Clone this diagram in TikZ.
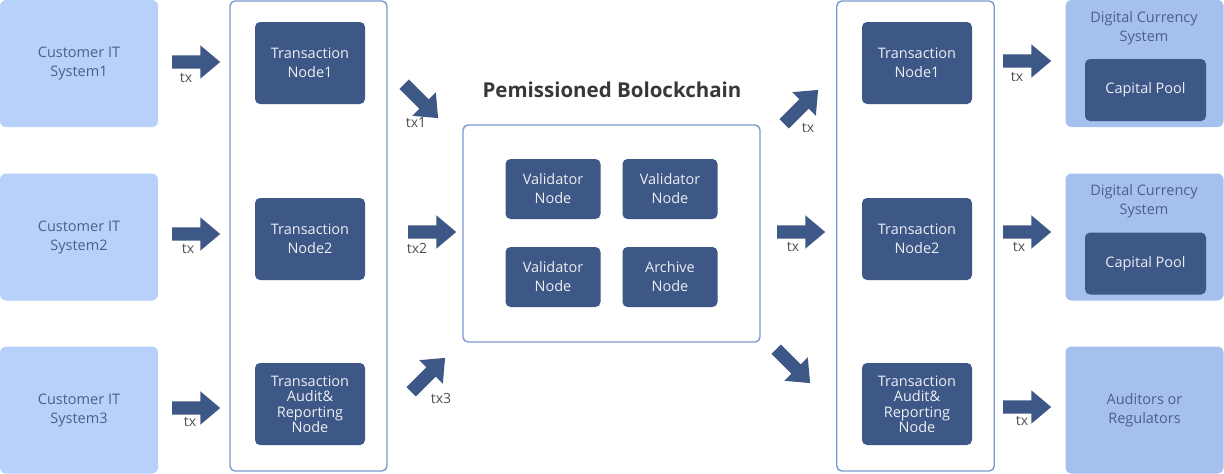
\documentclass[tikz,border=0pt]{standalone}
\usepackage{fontspec}
\setmainfont{Open Sans}
\usetikzlibrary{shapes.arrows}
\definecolor{custblue}{HTML}{B8D1FB}
\definecolor{dcsblue}{HTML}{A6C0EE}
\definecolor{nodeblue}{HTML}{3D5786}
\definecolor{frameblue}{HTML}{7B98CF}
\definecolor{softtext}{HTML}{4A5F8E}
\definecolor{labgray}{HTML}{4F4F4F}
\definecolor{titlegray}{HTML}{383838}

\begin{document}
\begin{tikzpicture}[x=1pt,y=-1pt,
    cust/.style={fill=custblue,rounded corners=6pt,minimum width=158pt,minimum height=127pt,text=softtext,align=center,font=\fontsize{14.5}{19}\selectfont},
    dcs/.style={cust,fill=dcsblue},
    frame/.style={draw=frameblue,line width=1.4pt,fill=white,rounded corners=5pt},
    txn/.style={fill=nodeblue,rounded corners=5pt,text=white!90!nodeblue,align=center,minimum width=110pt,minimum height=82pt,font=\fontsize{14.5}{19}\selectfont},
    audit/.style={txn,font=\fontsize{14.5}{15.5}\selectfont},
    valid/.style={txn,minimum width=95pt,minimum height=60pt},
    pool/.style={txn,minimum width=121pt,minimum height=62pt},
    fat/.style={single arrow,fill=nodeblue,inner xsep=0pt,inner ysep=6.5pt,minimum height=48pt,single arrow head extend=10pt,single arrow tip angle=80,anchor=tail},
    txlab/.style={text=labgray,font=\fontsize{14}{16}\selectfont,inner sep=0pt}]
 %   \useasboundingbox (0,0) rectangle (1224,474);
    \path[use as bounding box] (0,0) rectangle (1224,474);

    \node[cust] (cust1) at (79,63.5) {Customer IT\\System1};
    \node[cust] (cust2) at (79,237) {Customer IT\\System2};
    \node[cust] (cust3) at (79,410) {Customer IT\\System3};

    \node[frame,minimum width=157pt,minimum height=470pt] (lframe) at (308.5,236) {};
    \node[frame,minimum width=297pt,minimum height=217pt] (chain) at (611.5,233.5) {};
    \node[frame,minimum width=157.5pt,minimum height=470pt] (rframe) at (915.5,236) {};

    \node[txn] (ltx1) at (310,63) {Transaction\\Node1};
    \node[txn] (ltx2) at (310,239) {Transaction\\Node2};
    \node[audit] (laudit) at (310,404) {Transaction\\Audit\&\\Reporting\\Node};

    \node[text=titlegray,font=\fontsize{20.5}{24}\selectfont\bfseries] (title) at (612,90) {Pemissioned Bolockchain};
    \node[valid] (val1) at (553,189) {Validator\\Node};
    \node[valid] (val2) at (670,189) {Validator\\Node};
    \node[valid] (val3) at (553,277) {Validator\\Node};
    \node[valid] (arch) at (670,277) {Archive\\Node};

    \node[txn] (rtx1) at (917,63) {Transaction\\Node1};
    \node[txn] (rtx2) at (917,239) {Transaction\\Node2};
    \node[audit] (raudit) at (917,404) {Transaction\\Audit\&\\Reporting\\Node};

    \node[dcs] (dcs1) at (1144.5,63.5) {};
    \node[text=softtext,align=center,font=\fontsize{14.5}{19}\selectfont] (dcs1t) at (1144,28.5) {Digital Currency\\System};
    \node[pool] (pool1) at (1145.5,90) {Capital Pool};
    \node[dcs] (dcs2) at (1144.5,237) {};
    \node[text=softtext,align=center,font=\fontsize{14.5}{19}\selectfont] (dcs2t) at (1144,201.5) {Digital Currency\\System};
    \node[pool] (pool2) at (1145.5,263.5) {Capital Pool};
    \node[dcs] (audr) at (1144.5,410) {Auditors or\\Regulators};

    \node[fat] (in1) at (172,62) {};
    \node[fat] (in2) at (172,234) {};
    \node[fat] (in3) at (172,408) {};
    \node[fat,rotate=-45] (up1) at (404,84) {};
    \node[fat] (up2) at (408,232) {};
    \node[fat,rotate=45] (up3) at (411,392) {};
    \node[fat,rotate=45] (down1) at (784,124) {};
    \node[fat] (down2) at (777,232) {};
    \node[fat,rotate=-45] (down3) at (776,349) {};
    \node[fat] (out1) at (1003,61) {};
    \node[fat] (out2) at (1003,232) {};
    \node[fat] (out3) at (1003,407) {};

    \node[txlab] (lin1) at (186,78) {tx};
    \node[txlab] (lin2) at (188,249) {tx};
    \node[txlab] (lin3) at (190,422) {tx};
    \node[txlab] (lup1) at (416,123) {tx1};
    \node[txlab] (lup2) at (417,248) {tx2};
    \node[txlab] (lup3) at (441,398) {tx3};
    \node[txlab] (ldown1) at (808,128) {tx};
    \node[txlab] (ldown2) at (793,247) {tx};
    \node[txlab] (lout1) at (1017,77) {tx};
    \node[txlab] (lout2) at (1019,247) {tx};
    \node[txlab] (lout3) at (1022,421) {tx};

   \end{tikzpicture}
\end{document}
